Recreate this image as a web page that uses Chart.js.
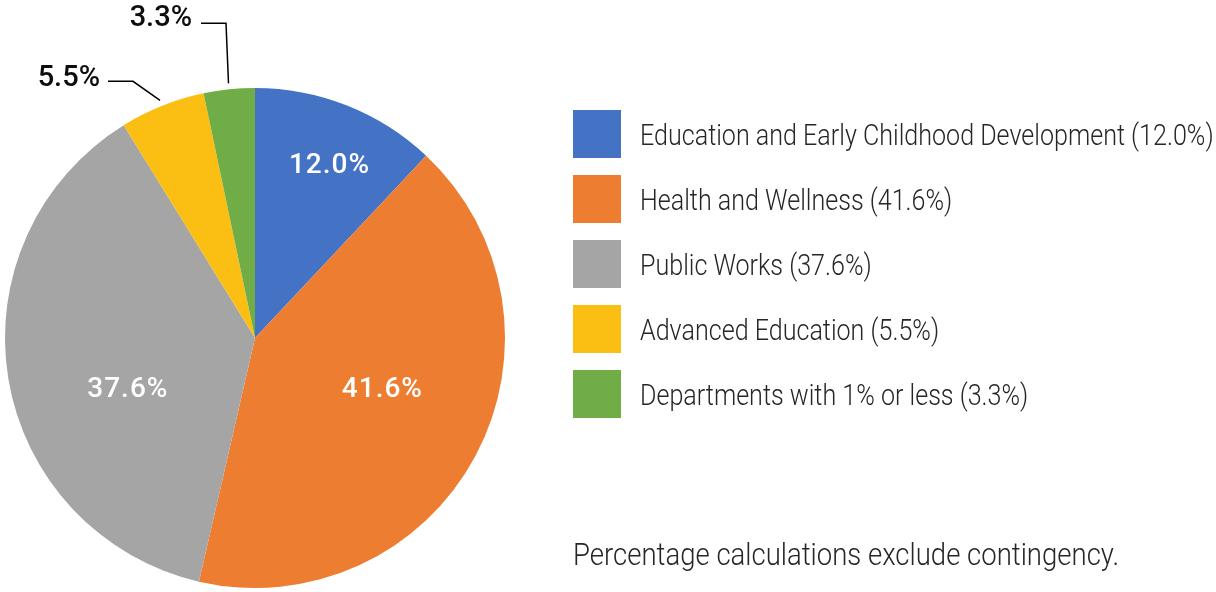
<!DOCTYPE html>
<html>
<head>
<meta charset="utf-8">
<script src="https://cdn.jsdelivr.net/npm/chart.js@4.4.1/dist/chart.umd.min.js"></script>
<style>
  html, body { margin: 0; padding: 0; background: #fff; }
  #wrap { position: relative; width: 1216px; height: 592px; overflow: hidden; }
  #pie { position: absolute; left: 0; top: 0; }
  .item { position: absolute; left: 573px; height: 48px; }
  .swatch { position: absolute; left: 0; top: 0; width: 48px; height: 48px; }
  .txt, #note {
    position: absolute; white-space: nowrap; color: #262626;
    font-family: Roboto, "Noto Sans", sans-serif; font-weight: 300;
    transform-origin: left center;
  }
  .txt { left: 67px; top: 50%; margin-top: 1px; font-size: 29px; line-height: 1; transform: translateY(-50%) scaleX(0.865); }
  #note { left: 573px; top: 554px; font-size: 32px; line-height: 1; transform: translateY(-50%) scaleX(0.86); }
</style>
</head>
<body>
<div id="wrap">
  <canvas id="pie" width="1216" height="592"></canvas>
  <div id="legend"></div>
  <div id="note">Percentage calculations exclude contingency.</div>
</div>
<script>
const categories = [
  "Education and Early Childhood Development",
  "Health and Wellness",
  "Public Works",
  "Advanced Education",
  "Departments with 1% or less"
]
const shares = [12.0, 41.6, 37.6, 5.5, 3.3]
const colors = ["#4472c4", "#ed7d31", "#a5a5a5", "#fbbf14", "#70ad47"]

// where each slice label goes: inside (fraction of radius, angle nudge in deg) or outside with a leader
const labelLayout = [
  { inside: true, frac: 0.75, nudge: 1.8 },
  { inside: true, frac: 0.55, nudge: -6 },
  { inside: true, frac: 0.55, nudge: -13 },
  { inside: false, elbow: [-27, -19], end: [-52, -19], text: [-60, -22] },
  { inside: false, elbow: [-2.5, -60], end: [-27.5, -60], text: [-36.5, -65] }
]

const pct = v => v.toFixed(1) + "%"

// html legend
const legend = document.getElementById("legend")
categories.forEach((name, i) => {
  const item = document.createElement("div")
  item.className = "item"
  item.style.top = (110 + i * 65) + "px"
  item.innerHTML = '<div class="swatch" style="background:' + colors[i] + '"></div>' +
    '<div class="txt">' + name + " (" + pct(shares[i]) + ")</div>"
  legend.appendChild(item)
})

const sliceLabels = {
  id: "sliceLabels",
  afterDatasetsDraw(chart) {
    const ctx = chart.ctx
    const arcs = chart.getDatasetMeta(0).data
    ctx.save()
    ctx.textBaseline = "middle"
    arcs.forEach((arc, i) => {
      const lay = labelLayout[i]
      const mid = (arc.startAngle + arc.endAngle) / 2
      const r = arc.outerRadius
      if (lay.inside) {
        const a = mid + lay.nudge * Math.PI / 180
        const x = arc.x + Math.cos(a) * r * lay.frac
        const y = arc.y + Math.sin(a) * r * lay.frac
        ctx.font = "500 28px Roboto, sans-serif"
        ctx.letterSpacing = "1px"
        ctx.fillStyle = "#fff"
        ctx.textAlign = "center"
        ctx.fillText(pct(shares[i]), x, y)
      } else {
        const ax = arc.x + Math.cos(mid) * (r + 6)
        const ay = arc.y + Math.sin(mid) * (r + 6)
        ctx.strokeStyle = "#000"
        ctx.lineWidth = 1.5
        ctx.beginPath()
        ctx.moveTo(ax, ay)
        ctx.lineTo(ax + lay.elbow[0], ay + lay.elbow[1])
        ctx.lineTo(ax + lay.end[0], ay + lay.end[1])
        ctx.stroke()
        ctx.font = "500 29px Roboto, sans-serif"
        ctx.letterSpacing = "0px"
        ctx.fillStyle = "#0d0d0d"
        ctx.textAlign = "right"
        ctx.fillText(pct(shares[i]), ax + lay.text[0], ay + lay.text[1])
      }
    })
    ctx.restore()
  }
}

new Chart(document.getElementById("pie"), {
  type: "pie",
  data: {
    labels: categories,
    datasets: [{
      data: shares,
      backgroundColor: colors,
      borderWidth: 0
    }]
  },
  options: {
    responsive: false,
    animation: false,
    layout: { padding: { left: 5, top: 88, right: 711, bottom: 4 } },
    plugins: {
      legend: { display: false },
      tooltip: { enabled: false }
    }
  },
  plugins: [sliceLabels]
})
</script>
</body>
</html>
